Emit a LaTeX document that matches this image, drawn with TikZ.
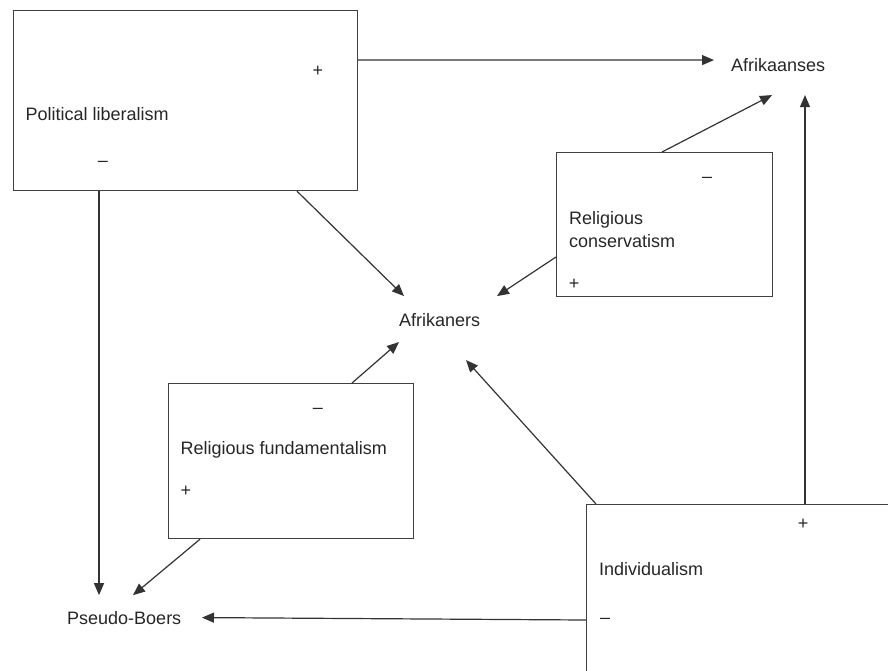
\documentclass[tikz,border=0pt]{standalone}
\usepackage{fontspec}
\setmainfont{Liberation Sans}
\usepackage{tikz}
\usetikzlibrary{arrows.meta}

\begin{document}
\begin{tikzpicture}[
    x=1pt, y=-1pt,
    font=\fontsize{18}{23}\selectfont,
    box/.style={draw=black!75, line width=1.2pt, anchor=north west,
                inner sep=0pt},
    term/.style={anchor=base west, inner sep=0pt, text=black!85},
    sign/.style={inner sep=0pt, text=black!85},
    link/.style={-{Triangle[length=12pt, width=10pt]}, line width=1.2pt,
                 draw=black!80}
  ]
    \useasboundingbox (0,0) rectangle (888,670);
    \clip (0,0) rectangle (888,670);
    % factors
    \node[box, minimum width=344pt, minimum height=180pt] (pl) at (13,10) {};
    \node[box, minimum width=216pt, minimum height=144pt] (rc) at (556,152) {};
    \node[box, minimum width=245pt, minimum height=155pt] (rf) at (168,383) {};
    \node[box, minimum width=330pt, minimum height=200pt] (ind) at (586,504) {};
    \node[term] (pl-txt) at (25.5,120) {Political liberalism};
    \node[term, align=left] (rc-txt) at (569,247.5) {Religious\\conservatism};
    \node[term] (rf-txt) at (180.5,454) {Religious fundamentalism};
    \node[term] (ind-txt) at (599,575) {Individualism};
    \node[sign] (pl-p) at (318,71) {+};
    \node[sign] (pl-m) at (103,164) {--};
    \node[sign] (rc-m) at (707,180) {--};
    \node[sign] (rc-p) at (574,284) {+};
    \node[sign] (rf-m) at (318,411) {--};
    \node[sign] (rf-p) at (186,491) {+};
    \node[sign] (ind-p) at (803,524) {+};
    \node[sign] (ind-m) at (605,621) {--};
    % groups
    \node[term] (afs) at (731,71.5) {Afrikaanses};
    \node[term] (afr) at (399,326) {Afrikaners};
    \node[term] (pb) at (67,624) {Pseudo-Boers};
    % links
    \draw[link] ([yshift=-50pt]pl.north east) -- ([xshift=-17pt,yshift=5pt]afs.west);
    \draw[link] ([xshift=106pt]rc.north west) -- ([xshift=41pt,yshift=-30pt]afs.west);
    \draw[link] ([xshift=219pt]ind.north west) -- ([xshift=74pt,yshift=-30pt]afs.west);
    \draw[link] ([yshift=-105pt]rc.north west) -- ([xshift=98pt,yshift=23.5pt]afr.west);
    \draw[link] ([xshift=284pt]pl.south west) -- ([xshift=5pt,yshift=23.5pt]afr.west);
    \draw[link] ([xshift=184pt]rf.north west) -- ([yshift=-22.5pt]afr.west);
    \draw[link] ([xshift=10pt]ind.north west) -- ([xshift=67pt,yshift=-40.5pt]afr.west);
    \draw[link] ([xshift=86pt]pl.south west) -- ([xshift=32pt,yshift=22.4pt]pb.west);
    \draw[link] ([xshift=32pt]rf.south west) -- ([xshift=66pt,yshift=22.4pt]pb.west);
    \draw[link] ([yshift=-116pt]ind.north west) -- ([xshift=135pt]pb.west);
\end{tikzpicture}
\end{document}
